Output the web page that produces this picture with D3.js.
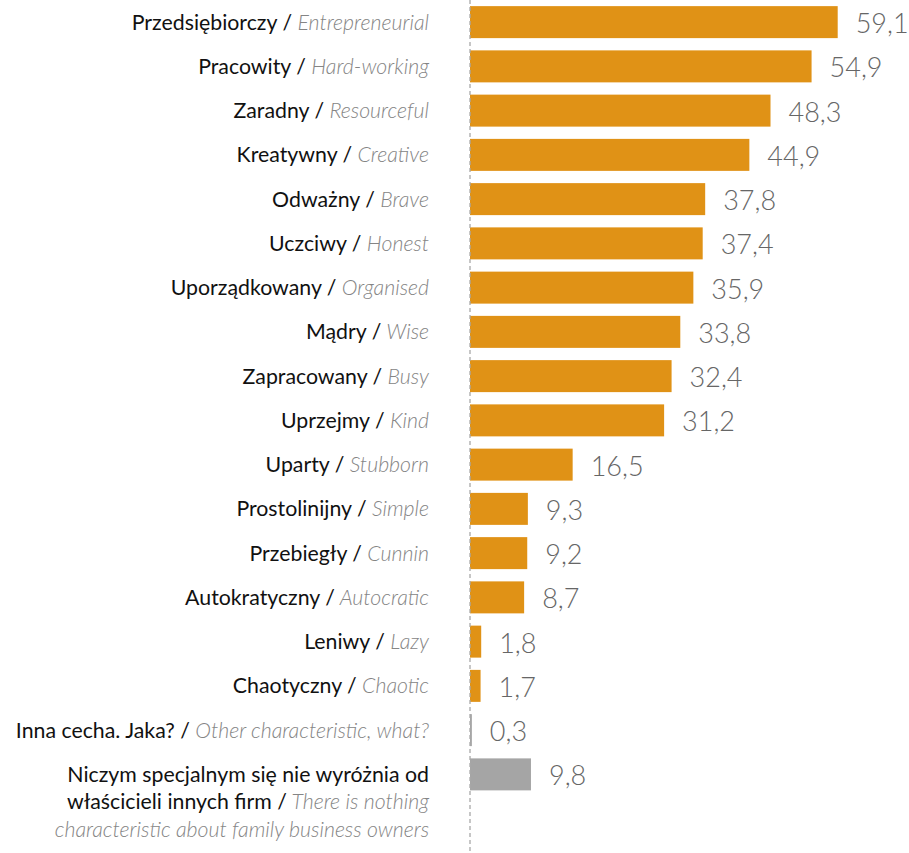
<!DOCTYPE html>
<html>
<head>
<meta charset="utf-8">
<script src="https://cdn.jsdelivr.net/npm/d3@7/dist/d3.min.js"></script>
<style>
  html, body { margin: 0; padding: 0; background: #fff; }
  svg { display: block; font-family: Lato, "Noto Sans", sans-serif; }
  .pl { fill: #111; font-family: Lato, "Noto Sans", sans-serif; font-weight: 400; font-style: normal; }
  .en { fill: #858585; font-family: "Lato Light", Lato, sans-serif; font-weight: 300; font-style: italic; }
  .val { fill: #666; font-family: "Lato Light", Lato, sans-serif; font-weight: 300; }
</style>
</head>
<body>
<svg id="chart" width="909" height="853"></svg>
<script>
// Traits attributed to family business owners (% of answers)
const labelsPl = [
  "Przedsiębiorczy", "Pracowity", "Zaradny", "Kreatywny", "Odważny", "Uczciwy",
  "Uporządkowany", "Mądry", "Zapracowany", "Uprzejmy", "Uparty", "Prostolinijny",
  "Przebiegły", "Autokratyczny", "Leniwy", "Chaotyczny", "Inna cecha. Jaka?",
  "Niczym specjalnym się nie wyróżnia od właścicieli innych firm"
];
const labelsEn = [
  "Entrepreneurial", "Hard-working", "Resourceful", "Creative", "Brave", "Honest",
  "Organised", "Wise", "Busy", "Kind", "Stubborn", "Simple",
  "Cunnin", "Autocratic", "Lazy", "Chaotic", "Other characteristic, what?",
  "There is nothing characteristic about family business owners"
];
const values = [59.1, 54.9, 48.3, 44.9, 37.8, 37.4, 35.9, 33.8, 32.4, 31.2, 16.5, 9.3, 9.2, 8.7, 1.8, 1.7, 0.3, 9.8];
const answerTypes = [
  "trait", "trait", "trait", "trait", "trait", "trait", "trait", "trait", "trait",
  "trait", "trait", "trait", "trait", "trait", "trait", "trait", "other", "none"
];

const svg = d3.select("#chart");
const W = 909, H = 853;
const x0 = 470, labelRight = 429, fontSize = 21.3, valueSize = 27, lineH = 27.5;

const x = d3.scaleLinear().domain([0, 59.1]).range([x0, 837.7]);
const y = d3.scaleBand()
  .domain(d3.range(values.length))
  .range([0, values.length * 44.25])
  .paddingInner(0.277)
  .paddingOuter(0.1385);
const color = d3.scaleOrdinal()
  .domain(["trait", "other", "none"])
  .range(["#e09216", "#a5a5a5", "#a5a5a5"]);

// bars
svg.append("g").selectAll("rect")
  .data(values)
  .join("rect")
  .attr("x", x(0))
  .attr("y", (d, i) => y(i))
  .attr("width", d => x(d) - x(0))
  .attr("height", y.bandwidth())
  .attr("fill", (d, i) => color(answerTypes[i]));

// dashed baseline
svg.append("line")
  .attr("x1", x(0)).attr("x2", x(0))
  .attr("y1", 0).attr("y2", H)
  .attr("stroke", "#a8a8a8")
  .attr("stroke-width", 1.3)
  .attr("stroke-dasharray", "4,3");

// value labels
const fmt = v => d3.format(".1f")(v).replace(".", ",");
svg.append("g").selectAll("text")
  .data(values)
  .join("text")
  .attr("class", "val")
  .attr("x", d => x(d) + 18)
  .attr("y", (d, i) => y(i) + y.bandwidth() / 2 + 11)
  .attr("font-size", valueSize)
  .text(fmt);

// category labels: Polish / English, wrapped to a maximum width
const measure = svg.append("text").attr("font-size", fontSize).attr("visibility", "hidden");
function tokenWidth(word, cls) {
  measure.attr("class", cls).text(word);
  return measure.node().getComputedTextLength();
}
const spaceW = tokenWidth("a b", "pl") - tokenWidth("ab", "pl");
const maxW = 420;

const labelG = svg.append("g").attr("font-size", fontSize);
labelsPl.forEach((pl, i) => {
  const tokens = pl.split(" ").map(w => ({ w, cls: "pl" }))
    .concat([{ w: "/", cls: "pl" }])
    .concat(labelsEn[i].split(" ").map(w => ({ w, cls: "en" })));
  const lines = [[]];
  let width = 0;
  tokens.forEach(t => {
    const tw = tokenWidth(t.w, t.cls);
    const cur = lines[lines.length - 1];
    const add = cur.length ? spaceW + tw : tw;
    if (cur.length && width + add > maxW) {
      lines.push([t]);
      width = tw;
    } else {
      cur.push(t);
      width += add;
    }
  });
  const cy = y(i) + y.bandwidth() / 2;
  lines.forEach((line, li) => {
    const txt = labelG.append("text")
      .attr("x", labelRight)
      .attr("y", cy + 7.5 + li * lineH)
      .attr("text-anchor", "end");
    // group consecutive tokens sharing a style into one tspan
    const runs = [];
    line.forEach(t => {
      const last = runs[runs.length - 1];
      if (last && last.cls === t.cls) last.words.push(t.w);
      else runs.push({ cls: t.cls, words: [t.w] });
    });
    runs.forEach((r, ri) => {
      txt.append("tspan")
        .attr("class", r.cls)
        .text((ri > 0 ? " " : "") + r.words.join(" "));
    });
  });
});
measure.remove();
</script>
</body>
</html>
